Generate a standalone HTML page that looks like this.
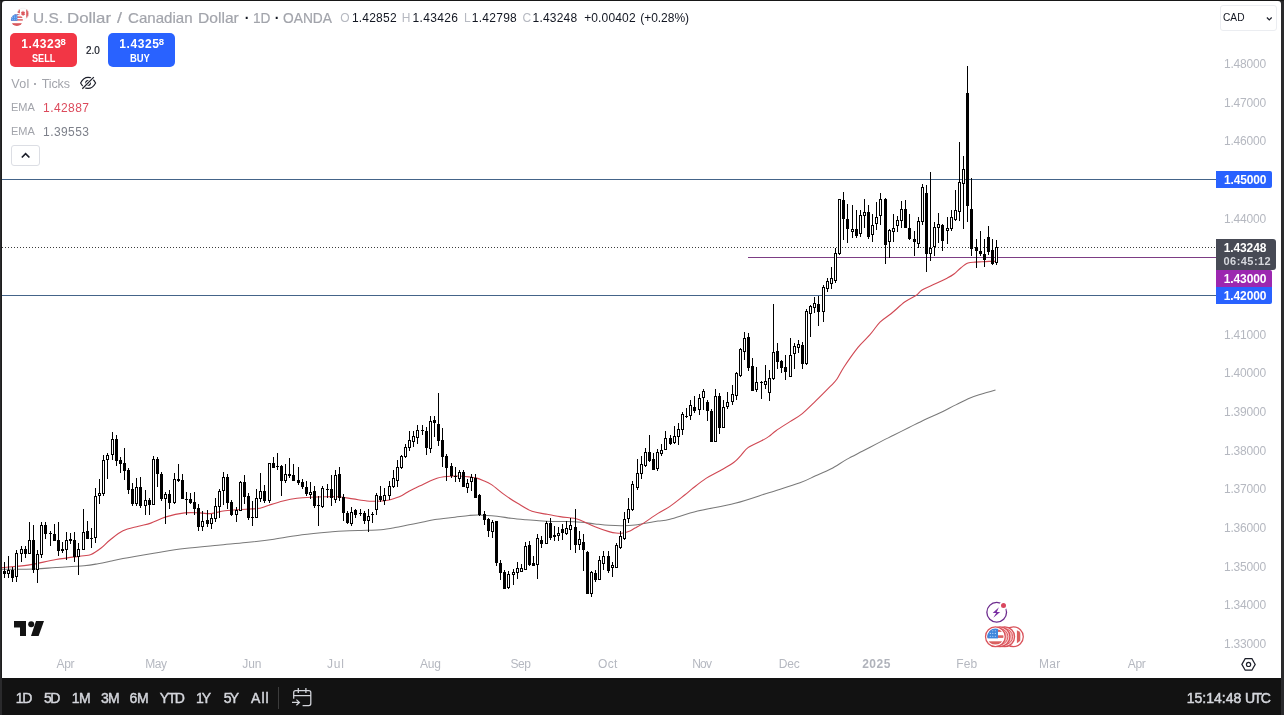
<!DOCTYPE html>
<html lang="en">
<head>
<meta charset="utf-8">
<title>USDCAD Chart</title>
<style>
*{box-sizing:border-box}
html,body{margin:0;padding:0}
body{width:1284px;height:715px;overflow:hidden;background:#2a2a2c;font-family:"Liberation Sans",sans-serif;position:relative;color:#131722}
.chart{position:absolute;left:2px;top:1px;width:1279px;height:677px;background:#fff;border-radius:3px 3px 0 0;overflow:hidden}
.bar{position:absolute;left:2px;top:678px;width:1279px;height:37px;background:#121212}
.abs{position:absolute;white-space:nowrap;line-height:1}
.ov{position:absolute;left:0;top:0;width:1284px;height:715px}
svg.plot{position:absolute;left:-2px;top:-1px}
</style>
</head>
<body>
<div class="abs" style="left:0;top:0;width:1284px;height:1px;background:#171717"></div>
<div class="abs" style="left:1px;top:1px;width:1px;height:677px;background:#1d1d1d"></div>
<div class="chart">
<svg class="plot" width="1284" height="715" viewBox="0 0 1284 715">
<line x1="2" y1="179.5" x2="1216" y2="179.5" stroke="#446489" stroke-width="1"/>
<line x1="2" y1="295.5" x2="1216" y2="295.5" stroke="#446489" stroke-width="1"/>
<line x1="748" y1="257.5" x2="1216" y2="257.5" stroke="#7c3d84" stroke-width="1"/>
<line x1="2" y1="247.5" x2="1216" y2="247.5" stroke="#3c3c3c" stroke-width="1" stroke-dasharray="1 2" shape-rendering="crispEdges"/>
<path d="M2.0,569.3 C7.5,569.2 26.0,569.2 35.0,568.9 C44.0,568.6 47.8,568.0 56.0,567.5 C64.2,567.0 77.0,566.4 84.0,565.8 C91.0,565.2 93.7,564.5 98.0,563.7 C102.3,563.0 105.8,562.2 110.0,561.3 C114.2,560.4 115.7,559.9 123.0,558.5 C130.3,557.1 143.5,554.9 153.8,553.2 C164.1,551.6 173.9,549.9 184.6,548.6 C195.3,547.3 207.8,546.2 218.0,545.2 C228.2,544.2 236.7,543.6 246.0,542.6 C255.3,541.6 264.7,540.5 274.0,539.2 C283.3,537.9 292.7,535.9 302.0,534.7 C311.3,533.5 323.0,532.5 330.0,531.9 C337.0,531.3 337.8,531.2 344.0,530.9 C350.2,530.6 360.8,530.5 367.0,530.3 C373.2,530.1 376.3,530.2 381.0,529.7 C385.7,529.2 390.3,528.4 395.0,527.6 C399.7,526.8 404.3,525.7 409.0,524.8 C413.7,523.9 418.7,522.9 423.0,522.0 C427.3,521.1 429.7,520.4 435.0,519.6 C440.3,518.8 449.3,517.9 455.0,517.2 C460.7,516.5 465.0,515.9 469.0,515.5 C473.0,515.1 474.3,514.9 479.0,515.0 C483.7,515.1 491.7,515.7 497.0,516.2 C502.3,516.8 506.3,517.7 511.0,518.3 C515.7,518.9 520.3,519.3 525.0,519.7 C529.7,520.1 534.3,520.5 539.0,520.8 C543.7,521.1 548.3,521.3 553.0,521.4 C557.7,521.5 562.3,521.4 567.0,521.5 C571.7,521.6 576.3,521.8 581.0,522.2 C585.7,522.6 590.3,523.4 595.0,523.9 C599.7,524.4 604.3,525.0 609.0,525.3 C613.7,525.6 618.7,525.8 623.0,525.7 C627.3,525.7 631.5,525.4 635.0,525.0 C638.5,524.6 640.2,524.1 644.0,523.5 C647.8,522.9 653.7,521.8 658.0,521.1 C662.3,520.4 663.4,520.9 670.0,519.2 C676.6,517.5 686.8,513.8 697.6,511.1 C708.4,508.5 723.0,506.4 735.0,503.3 C747.0,500.2 758.9,495.8 769.7,492.4 C780.5,489.0 792.4,485.6 800.0,482.8 C807.6,480.0 810.4,478.1 815.6,475.8 C820.8,473.5 826.0,471.5 831.2,468.8 C836.4,466.1 841.5,462.3 846.7,459.4 C851.9,456.5 857.1,454.0 862.3,451.3 C867.5,448.6 872.7,445.8 877.9,443.1 C883.1,440.4 888.3,437.9 893.5,435.3 C898.7,432.7 903.8,430.1 909.0,427.5 C914.2,424.9 919.4,422.2 924.6,419.7 C929.8,417.2 935.0,415.2 940.2,412.7 C945.4,410.2 951.1,407.2 955.8,404.9 C960.5,402.6 964.3,400.4 968.2,398.7 C972.1,397.0 974.6,396.2 979.1,394.8 C983.6,393.4 992.8,390.9 995.5,390.1" fill="none" stroke="#797979" stroke-width="1.05"/>
<path d="M2.0,567.6 C6.3,567.2 19.0,566.5 28.0,565.1 C37.0,563.8 46.7,561.1 56.0,559.5 C65.3,557.9 78.2,556.5 84.0,555.7 C89.8,554.9 88.2,555.8 91.0,554.6 C93.8,553.4 97.6,550.7 100.8,548.3 C104.0,545.9 106.3,542.9 110.0,540.0 C113.7,537.1 118.2,533.1 123.0,530.8 C127.8,528.5 133.9,527.5 138.5,526.2 C143.1,524.9 146.2,524.7 150.8,523.1 C155.4,521.5 160.4,518.6 166.0,516.9 C171.6,515.2 178.9,513.6 184.6,512.9 C190.3,512.2 195.6,512.8 200.0,512.9 C204.4,513.0 206.8,514.0 211.0,513.6 C215.2,513.2 219.2,511.5 225.0,510.8 C230.8,510.1 240.2,509.6 246.0,509.2 C251.8,508.8 256.2,508.9 260.0,508.2 C263.8,507.5 265.2,506.4 269.0,505.2 C272.8,504.0 278.3,502.2 283.0,501.0 C287.7,499.8 292.3,498.8 297.0,498.2 C301.7,497.6 306.3,497.4 311.0,497.2 C315.7,497.0 320.3,496.9 325.0,496.8 C329.7,496.7 334.3,496.5 339.0,496.8 C343.7,497.1 348.3,498.2 353.0,498.9 C357.7,499.6 363.5,500.6 367.0,501.0 C370.5,501.4 371.7,501.3 374.0,501.3 C376.3,501.3 378.7,501.2 381.0,501.0 C383.3,500.8 385.7,500.8 388.0,500.3 C390.3,499.8 392.7,499.0 395.0,498.2 C397.3,497.4 399.7,496.6 402.0,495.4 C404.3,494.2 406.7,492.5 409.0,491.2 C411.3,489.9 413.7,488.8 416.0,487.7 C418.3,486.6 420.7,485.6 423.0,484.5 C425.3,483.4 427.7,482.1 430.0,481.0 C432.3,479.9 434.7,478.9 437.0,478.2 C439.3,477.5 441.7,477.1 444.0,476.8 C446.3,476.5 448.7,476.4 451.0,476.3 C453.3,476.2 455.0,475.9 458.0,476.0 C461.0,476.1 466.0,476.6 469.0,476.9 C472.0,477.2 473.7,477.3 476.0,477.9 C478.3,478.5 480.4,479.3 483.0,480.4 C485.6,481.5 488.0,482.3 491.5,484.6 C495.0,486.9 499.6,491.2 504.0,494.4 C508.4,497.6 513.3,500.8 518.0,503.6 C522.7,506.4 527.3,509.6 532.0,511.3 C536.7,513.0 541.3,513.2 546.0,514.1 C550.7,515.0 555.3,515.9 560.0,516.6 C564.7,517.3 570.5,517.7 574.0,518.3 C577.5,518.9 577.5,519.0 581.0,520.4 C584.5,521.8 590.3,524.8 595.0,526.7 C599.7,528.6 605.5,530.6 609.0,531.6 C612.5,532.6 613.7,532.8 616.0,533.0 C618.3,533.2 620.7,533.4 623.0,533.0 C625.3,532.6 628.0,531.7 630.0,530.9 C632.0,530.1 632.7,529.4 635.0,528.1 C637.3,526.8 640.2,525.4 644.0,522.9 C647.8,520.4 653.7,516.1 658.0,513.4 C662.3,510.6 665.5,509.5 670.0,506.4 C674.5,503.3 681.3,497.7 685.0,494.8 C688.7,491.9 688.5,491.6 692.0,488.9 C695.5,486.2 701.3,481.4 706.0,478.4 C710.7,475.4 715.3,473.4 720.0,470.7 C724.7,468.0 730.5,464.9 734.0,462.3 C737.5,459.7 738.7,457.8 741.0,455.3 C743.3,452.9 744.5,450.1 748.0,447.6 C751.5,445.2 758.5,442.5 762.0,440.6 C765.5,438.7 766.7,438.0 769.0,436.4 C771.3,434.8 772.5,433.2 776.0,430.7 C779.5,428.2 785.7,424.4 790.0,421.6 C794.3,418.8 797.7,417.4 802.0,413.9 C806.3,410.4 811.3,405.2 816.0,400.7 C820.7,396.2 826.5,390.3 830.0,386.7 C833.5,383.1 834.7,382.3 837.0,379.0 C839.3,375.7 840.5,372.3 844.0,367.0 C847.5,361.7 853.7,352.8 858.0,347.4 C862.3,342.0 866.3,338.9 870.0,334.7 C873.7,330.5 876.5,325.6 880.0,322.1 C883.5,318.6 886.8,317.1 891.0,313.7 C895.2,310.3 900.8,304.9 905.0,301.8 C909.2,298.7 913.6,297.2 916.4,295.2 C919.2,293.2 919.2,291.6 922.0,289.9 C924.8,288.2 928.8,286.8 933.0,284.8 C937.2,282.9 943.5,280.0 947.0,278.2 C950.5,276.4 951.7,275.8 954.0,274.0 C956.3,272.2 958.7,269.5 961.0,267.7 C963.3,265.9 965.7,264.0 968.0,263.1 C970.3,262.2 972.7,262.3 975.0,262.1 C977.3,261.9 979.7,261.9 982.0,261.8 C984.3,261.7 986.7,261.5 989.0,261.4 C991.3,261.3 994.8,261.4 996.0,261.4" fill="none" stroke="#d04853" stroke-width="1.12"/>
<g fill="#000" shape-rendering="crispEdges">
<rect x="4" y="562" width="1" height="16"/>
<rect x="3" y="571" width="3" height="3"/>
<rect x="8" y="556" width="1" height="22"/>
<rect x="7" y="570" width="3" height="4"/>
<rect x="8" y="571" width="1" height="2" fill="#fff"/>
<rect x="12" y="567" width="1" height="15"/>
<rect x="11" y="570" width="3" height="8"/>
<rect x="16" y="550" width="1" height="32"/>
<rect x="15" y="553" width="3" height="24"/>
<rect x="16" y="554" width="1" height="22" fill="#fff"/>
<rect x="21" y="546" width="1" height="16"/>
<rect x="20" y="549" width="3" height="5"/>
<rect x="21" y="550" width="1" height="3" fill="#fff"/>
<rect x="25" y="546" width="1" height="12"/>
<rect x="24" y="549" width="3" height="5"/>
<rect x="29" y="522" width="1" height="32"/>
<rect x="28" y="540" width="3" height="14"/>
<rect x="29" y="541" width="1" height="12" fill="#fff"/>
<rect x="33" y="525" width="1" height="48"/>
<rect x="32" y="540" width="3" height="30"/>
<rect x="37" y="550" width="1" height="33"/>
<rect x="36" y="554" width="3" height="16"/>
<rect x="37" y="555" width="1" height="14" fill="#fff"/>
<rect x="41" y="522" width="1" height="36"/>
<rect x="40" y="525" width="3" height="30"/>
<rect x="41" y="526" width="1" height="28" fill="#fff"/>
<rect x="45" y="522" width="1" height="17"/>
<rect x="44" y="525" width="3" height="9"/>
<rect x="50" y="531" width="1" height="15"/>
<rect x="49" y="533" width="3" height="1"/>
<rect x="54" y="524" width="1" height="17"/>
<rect x="53" y="534" width="3" height="7"/>
<rect x="58" y="522" width="1" height="34"/>
<rect x="57" y="540" width="3" height="11"/>
<rect x="62" y="542" width="1" height="11"/>
<rect x="61" y="549" width="3" height="2"/>
<rect x="66" y="532" width="1" height="28"/>
<rect x="65" y="540" width="3" height="10"/>
<rect x="66" y="541" width="1" height="8" fill="#fff"/>
<rect x="70" y="533" width="1" height="11"/>
<rect x="69" y="539" width="3" height="2"/>
<rect x="74" y="532" width="1" height="30"/>
<rect x="73" y="540" width="3" height="17"/>
<rect x="78" y="543" width="1" height="32"/>
<rect x="77" y="549" width="3" height="8"/>
<rect x="78" y="550" width="1" height="6" fill="#fff"/>
<rect x="83" y="509" width="1" height="41"/>
<rect x="82" y="532" width="3" height="18"/>
<rect x="83" y="533" width="1" height="16" fill="#fff"/>
<rect x="87" y="521" width="1" height="18"/>
<rect x="86" y="531" width="3" height="8"/>
<rect x="91" y="528" width="1" height="20"/>
<rect x="90" y="538" width="3" height="1"/>
<rect x="95" y="488" width="1" height="55"/>
<rect x="94" y="496" width="3" height="42"/>
<rect x="95" y="497" width="1" height="40" fill="#fff"/>
<rect x="99" y="479" width="1" height="25"/>
<rect x="98" y="493" width="3" height="3"/>
<rect x="99" y="494" width="1" height="1" fill="#fff"/>
<rect x="103" y="455" width="1" height="41"/>
<rect x="102" y="460" width="3" height="34"/>
<rect x="103" y="461" width="1" height="32" fill="#fff"/>
<rect x="107" y="453" width="1" height="26"/>
<rect x="106" y="455" width="3" height="5"/>
<rect x="107" y="456" width="1" height="3" fill="#fff"/>
<rect x="112" y="432" width="1" height="28"/>
<rect x="111" y="439" width="3" height="16"/>
<rect x="112" y="440" width="1" height="14" fill="#fff"/>
<rect x="116" y="435" width="1" height="31"/>
<rect x="115" y="439" width="3" height="22"/>
<rect x="120" y="457" width="1" height="16"/>
<rect x="119" y="460" width="3" height="4"/>
<rect x="124" y="448" width="1" height="32"/>
<rect x="123" y="463" width="3" height="8"/>
<rect x="128" y="468" width="1" height="26"/>
<rect x="127" y="470" width="3" height="20"/>
<rect x="132" y="483" width="1" height="23"/>
<rect x="131" y="489" width="3" height="15"/>
<rect x="136" y="478" width="1" height="28"/>
<rect x="135" y="487" width="3" height="17"/>
<rect x="136" y="488" width="1" height="15" fill="#fff"/>
<rect x="140" y="477" width="1" height="31"/>
<rect x="139" y="487" width="3" height="19"/>
<rect x="145" y="490" width="1" height="25"/>
<rect x="144" y="500" width="3" height="6"/>
<rect x="145" y="501" width="1" height="4" fill="#fff"/>
<rect x="149" y="498" width="1" height="17"/>
<rect x="148" y="500" width="3" height="5"/>
<rect x="153" y="456" width="1" height="49"/>
<rect x="152" y="459" width="3" height="46"/>
<rect x="153" y="460" width="1" height="44" fill="#fff"/>
<rect x="157" y="457" width="1" height="30"/>
<rect x="156" y="459" width="3" height="15"/>
<rect x="161" y="472" width="1" height="29"/>
<rect x="160" y="474" width="3" height="25"/>
<rect x="165" y="492" width="1" height="32"/>
<rect x="164" y="494" width="3" height="5"/>
<rect x="165" y="495" width="1" height="3" fill="#fff"/>
<rect x="169" y="490" width="1" height="19"/>
<rect x="168" y="494" width="3" height="9"/>
<rect x="174" y="473" width="1" height="31"/>
<rect x="173" y="479" width="3" height="24"/>
<rect x="174" y="480" width="1" height="22" fill="#fff"/>
<rect x="178" y="464" width="1" height="18"/>
<rect x="177" y="479" width="3" height="2"/>
<rect x="182" y="474" width="1" height="25"/>
<rect x="181" y="480" width="3" height="19"/>
<rect x="186" y="492" width="1" height="23"/>
<rect x="185" y="499" width="3" height="1"/>
<rect x="190" y="493" width="1" height="11"/>
<rect x="189" y="499" width="3" height="4"/>
<rect x="194" y="492" width="1" height="23"/>
<rect x="193" y="502" width="3" height="7"/>
<rect x="198" y="504" width="1" height="27"/>
<rect x="197" y="508" width="3" height="19"/>
<rect x="202" y="511" width="1" height="20"/>
<rect x="201" y="521" width="3" height="6"/>
<rect x="202" y="522" width="1" height="4" fill="#fff"/>
<rect x="207" y="510" width="1" height="17"/>
<rect x="206" y="520" width="3" height="4"/>
<rect x="211" y="514" width="1" height="15"/>
<rect x="210" y="518" width="3" height="6"/>
<rect x="211" y="519" width="1" height="4" fill="#fff"/>
<rect x="215" y="498" width="1" height="24"/>
<rect x="214" y="506" width="3" height="13"/>
<rect x="215" y="507" width="1" height="11" fill="#fff"/>
<rect x="219" y="489" width="1" height="29"/>
<rect x="218" y="491" width="3" height="16"/>
<rect x="219" y="492" width="1" height="14" fill="#fff"/>
<rect x="223" y="472" width="1" height="33"/>
<rect x="222" y="477" width="3" height="14"/>
<rect x="223" y="478" width="1" height="12" fill="#fff"/>
<rect x="227" y="474" width="1" height="35"/>
<rect x="226" y="477" width="3" height="26"/>
<rect x="231" y="500" width="1" height="16"/>
<rect x="230" y="502" width="3" height="13"/>
<rect x="236" y="507" width="1" height="15"/>
<rect x="235" y="510" width="3" height="5"/>
<rect x="236" y="511" width="1" height="3" fill="#fff"/>
<rect x="240" y="481" width="1" height="30"/>
<rect x="239" y="482" width="3" height="29"/>
<rect x="240" y="483" width="1" height="27" fill="#fff"/>
<rect x="244" y="475" width="1" height="29"/>
<rect x="243" y="482" width="3" height="15"/>
<rect x="248" y="493" width="1" height="27"/>
<rect x="247" y="496" width="3" height="22"/>
<rect x="252" y="501" width="1" height="25"/>
<rect x="251" y="517" width="3" height="1"/>
<rect x="256" y="489" width="1" height="29"/>
<rect x="255" y="498" width="3" height="20"/>
<rect x="256" y="499" width="1" height="18" fill="#fff"/>
<rect x="260" y="473" width="1" height="29"/>
<rect x="259" y="491" width="3" height="8"/>
<rect x="260" y="492" width="1" height="6" fill="#fff"/>
<rect x="264" y="485" width="1" height="18"/>
<rect x="263" y="491" width="3" height="10"/>
<rect x="269" y="463" width="1" height="40"/>
<rect x="268" y="463" width="3" height="38"/>
<rect x="269" y="464" width="1" height="36" fill="#fff"/>
<rect x="273" y="457" width="1" height="11"/>
<rect x="272" y="463" width="3" height="5"/>
<rect x="277" y="453" width="1" height="17"/>
<rect x="276" y="466" width="3" height="1"/>
<rect x="281" y="465" width="1" height="31"/>
<rect x="280" y="466" width="3" height="15"/>
<rect x="285" y="464" width="1" height="19"/>
<rect x="284" y="474" width="3" height="7"/>
<rect x="285" y="475" width="1" height="5" fill="#fff"/>
<rect x="289" y="458" width="1" height="20"/>
<rect x="288" y="474" width="3" height="2"/>
<rect x="293" y="464" width="1" height="17"/>
<rect x="292" y="475" width="3" height="6"/>
<rect x="298" y="467" width="1" height="18"/>
<rect x="297" y="480" width="3" height="3"/>
<rect x="302" y="479" width="1" height="10"/>
<rect x="301" y="482" width="3" height="5"/>
<rect x="306" y="481" width="1" height="15"/>
<rect x="305" y="487" width="3" height="7"/>
<rect x="310" y="482" width="1" height="17"/>
<rect x="309" y="492" width="3" height="3"/>
<rect x="310" y="493" width="1" height="1" fill="#fff"/>
<rect x="314" y="486" width="1" height="22"/>
<rect x="313" y="491" width="3" height="15"/>
<rect x="318" y="496" width="1" height="30"/>
<rect x="317" y="505" width="3" height="1"/>
<rect x="322" y="486" width="1" height="22"/>
<rect x="321" y="488" width="3" height="19"/>
<rect x="322" y="489" width="1" height="17" fill="#fff"/>
<rect x="327" y="484" width="1" height="14"/>
<rect x="326" y="489" width="3" height="1"/>
<rect x="331" y="475" width="1" height="31"/>
<rect x="330" y="489" width="3" height="9"/>
<rect x="335" y="470" width="1" height="33"/>
<rect x="334" y="475" width="3" height="25"/>
<rect x="335" y="476" width="1" height="23" fill="#fff"/>
<rect x="339" y="467" width="1" height="34"/>
<rect x="338" y="474" width="3" height="24"/>
<rect x="343" y="494" width="1" height="27"/>
<rect x="342" y="497" width="3" height="16"/>
<rect x="347" y="511" width="1" height="13"/>
<rect x="346" y="513" width="3" height="10"/>
<rect x="351" y="507" width="1" height="19"/>
<rect x="350" y="512" width="3" height="12"/>
<rect x="351" y="513" width="1" height="10" fill="#fff"/>
<rect x="355" y="509" width="1" height="9"/>
<rect x="354" y="510" width="3" height="5"/>
<rect x="360" y="509" width="1" height="7"/>
<rect x="359" y="513" width="3" height="1"/>
<rect x="364" y="511" width="1" height="13"/>
<rect x="363" y="513" width="3" height="8"/>
<rect x="368" y="509" width="1" height="23"/>
<rect x="367" y="516" width="3" height="5"/>
<rect x="368" y="517" width="1" height="3" fill="#fff"/>
<rect x="372" y="512" width="1" height="11"/>
<rect x="371" y="514" width="3" height="1"/>
<rect x="376" y="493" width="1" height="22"/>
<rect x="375" y="495" width="3" height="15"/>
<rect x="376" y="496" width="1" height="13" fill="#fff"/>
<rect x="380" y="486" width="1" height="16"/>
<rect x="379" y="496" width="3" height="4"/>
<rect x="384" y="488" width="1" height="17"/>
<rect x="383" y="495" width="3" height="6"/>
<rect x="384" y="496" width="1" height="4" fill="#fff"/>
<rect x="389" y="481" width="1" height="19"/>
<rect x="388" y="486" width="3" height="10"/>
<rect x="389" y="487" width="1" height="8" fill="#fff"/>
<rect x="393" y="470" width="1" height="18"/>
<rect x="392" y="478" width="3" height="9"/>
<rect x="393" y="479" width="1" height="7" fill="#fff"/>
<rect x="397" y="460" width="1" height="27"/>
<rect x="396" y="467" width="3" height="14"/>
<rect x="397" y="468" width="1" height="12" fill="#fff"/>
<rect x="401" y="455" width="1" height="14"/>
<rect x="400" y="456" width="3" height="12"/>
<rect x="401" y="457" width="1" height="10" fill="#fff"/>
<rect x="405" y="444" width="1" height="14"/>
<rect x="404" y="447" width="3" height="10"/>
<rect x="405" y="448" width="1" height="8" fill="#fff"/>
<rect x="409" y="431" width="1" height="20"/>
<rect x="408" y="440" width="3" height="8"/>
<rect x="409" y="441" width="1" height="6" fill="#fff"/>
<rect x="413" y="431" width="1" height="16"/>
<rect x="412" y="436" width="3" height="6"/>
<rect x="413" y="437" width="1" height="4" fill="#fff"/>
<rect x="417" y="425" width="1" height="19"/>
<rect x="416" y="430" width="3" height="8"/>
<rect x="417" y="431" width="1" height="6" fill="#fff"/>
<rect x="422" y="425" width="1" height="10"/>
<rect x="421" y="430" width="3" height="1"/>
<rect x="426" y="427" width="1" height="28"/>
<rect x="425" y="431" width="3" height="17"/>
<rect x="430" y="416" width="1" height="37"/>
<rect x="429" y="421" width="3" height="28"/>
<rect x="430" y="422" width="1" height="26" fill="#fff"/>
<rect x="434" y="416" width="1" height="21"/>
<rect x="433" y="420" width="3" height="3"/>
<rect x="438" y="393" width="1" height="53"/>
<rect x="437" y="424" width="3" height="17"/>
<rect x="442" y="428" width="1" height="39"/>
<rect x="441" y="440" width="3" height="17"/>
<rect x="446" y="454" width="1" height="27"/>
<rect x="445" y="456" width="3" height="12"/>
<rect x="451" y="463" width="1" height="15"/>
<rect x="450" y="466" width="3" height="10"/>
<rect x="455" y="467" width="1" height="15"/>
<rect x="454" y="476" width="3" height="1"/>
<rect x="459" y="470" width="1" height="12"/>
<rect x="458" y="472" width="3" height="7"/>
<rect x="459" y="473" width="1" height="5" fill="#fff"/>
<rect x="463" y="470" width="1" height="17"/>
<rect x="462" y="472" width="3" height="15"/>
<rect x="467" y="479" width="1" height="14"/>
<rect x="466" y="483" width="3" height="5"/>
<rect x="467" y="484" width="1" height="3" fill="#fff"/>
<rect x="471" y="474" width="1" height="17"/>
<rect x="470" y="477" width="3" height="5"/>
<rect x="471" y="478" width="1" height="3" fill="#fff"/>
<rect x="475" y="474" width="1" height="24"/>
<rect x="474" y="478" width="3" height="20"/>
<rect x="479" y="494" width="1" height="22"/>
<rect x="478" y="495" width="3" height="20"/>
<rect x="484" y="511" width="1" height="14"/>
<rect x="483" y="514" width="3" height="6"/>
<rect x="488" y="518" width="1" height="19"/>
<rect x="487" y="519" width="3" height="12"/>
<rect x="492" y="520" width="1" height="18"/>
<rect x="491" y="522" width="3" height="10"/>
<rect x="492" y="523" width="1" height="8" fill="#fff"/>
<rect x="496" y="521" width="1" height="45"/>
<rect x="495" y="521" width="3" height="42"/>
<rect x="500" y="560" width="1" height="20"/>
<rect x="499" y="563" width="3" height="10"/>
<rect x="504" y="570" width="1" height="19"/>
<rect x="503" y="572" width="3" height="17"/>
<rect x="508" y="571" width="1" height="18"/>
<rect x="507" y="574" width="3" height="14"/>
<rect x="508" y="575" width="1" height="12" fill="#fff"/>
<rect x="513" y="569" width="1" height="16"/>
<rect x="512" y="572" width="3" height="3"/>
<rect x="513" y="573" width="1" height="1" fill="#fff"/>
<rect x="517" y="562" width="1" height="17"/>
<rect x="516" y="568" width="3" height="5"/>
<rect x="517" y="569" width="1" height="3" fill="#fff"/>
<rect x="521" y="564" width="1" height="8"/>
<rect x="520" y="568" width="3" height="4"/>
<rect x="521" y="569" width="1" height="2" fill="#fff"/>
<rect x="525" y="542" width="1" height="28"/>
<rect x="524" y="546" width="3" height="24"/>
<rect x="525" y="547" width="1" height="22" fill="#fff"/>
<rect x="529" y="541" width="1" height="25"/>
<rect x="528" y="545" width="3" height="20"/>
<rect x="533" y="556" width="1" height="10"/>
<rect x="532" y="563" width="3" height="3"/>
<rect x="537" y="534" width="1" height="45"/>
<rect x="536" y="538" width="3" height="27"/>
<rect x="537" y="539" width="1" height="25" fill="#fff"/>
<rect x="541" y="536" width="1" height="12"/>
<rect x="540" y="540" width="3" height="4"/>
<rect x="546" y="521" width="1" height="23"/>
<rect x="545" y="523" width="3" height="21"/>
<rect x="546" y="524" width="1" height="19" fill="#fff"/>
<rect x="550" y="518" width="1" height="22"/>
<rect x="549" y="523" width="3" height="15"/>
<rect x="554" y="526" width="1" height="15"/>
<rect x="553" y="535" width="3" height="2"/>
<rect x="558" y="527" width="1" height="14"/>
<rect x="557" y="533" width="3" height="3"/>
<rect x="558" y="534" width="1" height="1" fill="#fff"/>
<rect x="562" y="524" width="1" height="16"/>
<rect x="561" y="529" width="3" height="4"/>
<rect x="566" y="521" width="1" height="14"/>
<rect x="565" y="528" width="3" height="6"/>
<rect x="566" y="529" width="1" height="4" fill="#fff"/>
<rect x="570" y="518" width="1" height="32"/>
<rect x="569" y="525" width="3" height="5"/>
<rect x="570" y="526" width="1" height="3" fill="#fff"/>
<rect x="575" y="509" width="1" height="44"/>
<rect x="574" y="527" width="3" height="18"/>
<rect x="579" y="531" width="1" height="19"/>
<rect x="578" y="539" width="3" height="6"/>
<rect x="579" y="540" width="1" height="4" fill="#fff"/>
<rect x="583" y="534" width="1" height="37"/>
<rect x="582" y="542" width="3" height="8"/>
<rect x="587" y="551" width="1" height="43"/>
<rect x="586" y="552" width="3" height="42"/>
<rect x="591" y="571" width="1" height="26"/>
<rect x="590" y="572" width="3" height="22"/>
<rect x="591" y="573" width="1" height="20" fill="#fff"/>
<rect x="595" y="570" width="1" height="12"/>
<rect x="594" y="573" width="3" height="7"/>
<rect x="599" y="556" width="1" height="24"/>
<rect x="598" y="560" width="3" height="20"/>
<rect x="599" y="561" width="1" height="18" fill="#fff"/>
<rect x="603" y="551" width="1" height="19"/>
<rect x="602" y="556" width="3" height="8"/>
<rect x="603" y="557" width="1" height="6" fill="#fff"/>
<rect x="608" y="551" width="1" height="22"/>
<rect x="607" y="556" width="3" height="15"/>
<rect x="612" y="562" width="1" height="15"/>
<rect x="611" y="565" width="3" height="3"/>
<rect x="612" y="566" width="1" height="1" fill="#fff"/>
<rect x="616" y="543" width="1" height="25"/>
<rect x="615" y="545" width="3" height="23"/>
<rect x="616" y="546" width="1" height="21" fill="#fff"/>
<rect x="620" y="531" width="1" height="18"/>
<rect x="619" y="536" width="3" height="12"/>
<rect x="620" y="537" width="1" height="10" fill="#fff"/>
<rect x="624" y="512" width="1" height="28"/>
<rect x="623" y="519" width="3" height="20"/>
<rect x="624" y="520" width="1" height="18" fill="#fff"/>
<rect x="628" y="498" width="1" height="25"/>
<rect x="627" y="509" width="3" height="10"/>
<rect x="628" y="510" width="1" height="8" fill="#fff"/>
<rect x="632" y="481" width="1" height="30"/>
<rect x="631" y="484" width="3" height="26"/>
<rect x="632" y="485" width="1" height="24" fill="#fff"/>
<rect x="637" y="459" width="1" height="31"/>
<rect x="636" y="473" width="3" height="15"/>
<rect x="637" y="474" width="1" height="13" fill="#fff"/>
<rect x="641" y="456" width="1" height="23"/>
<rect x="640" y="464" width="3" height="10"/>
<rect x="641" y="465" width="1" height="8" fill="#fff"/>
<rect x="645" y="448" width="1" height="19"/>
<rect x="644" y="452" width="3" height="14"/>
<rect x="645" y="453" width="1" height="12" fill="#fff"/>
<rect x="649" y="435" width="1" height="27"/>
<rect x="648" y="452" width="3" height="9"/>
<rect x="653" y="453" width="1" height="17"/>
<rect x="652" y="459" width="3" height="11"/>
<rect x="657" y="449" width="1" height="22"/>
<rect x="656" y="452" width="3" height="17"/>
<rect x="657" y="453" width="1" height="15" fill="#fff"/>
<rect x="661" y="444" width="1" height="12"/>
<rect x="660" y="450" width="3" height="4"/>
<rect x="661" y="451" width="1" height="2" fill="#fff"/>
<rect x="665" y="431" width="1" height="19"/>
<rect x="664" y="438" width="3" height="12"/>
<rect x="665" y="439" width="1" height="10" fill="#fff"/>
<rect x="670" y="435" width="1" height="10"/>
<rect x="669" y="438" width="3" height="6"/>
<rect x="674" y="426" width="1" height="18"/>
<rect x="673" y="436" width="3" height="7"/>
<rect x="674" y="437" width="1" height="5" fill="#fff"/>
<rect x="678" y="423" width="1" height="22"/>
<rect x="677" y="429" width="3" height="8"/>
<rect x="678" y="430" width="1" height="6" fill="#fff"/>
<rect x="682" y="412" width="1" height="23"/>
<rect x="681" y="414" width="3" height="16"/>
<rect x="682" y="415" width="1" height="14" fill="#fff"/>
<rect x="686" y="408" width="1" height="10"/>
<rect x="685" y="416" width="3" height="1"/>
<rect x="690" y="400" width="1" height="20"/>
<rect x="689" y="405" width="3" height="11"/>
<rect x="690" y="406" width="1" height="9" fill="#fff"/>
<rect x="694" y="396" width="1" height="17"/>
<rect x="693" y="407" width="3" height="4"/>
<rect x="699" y="394" width="1" height="21"/>
<rect x="698" y="398" width="3" height="12"/>
<rect x="699" y="399" width="1" height="10" fill="#fff"/>
<rect x="703" y="389" width="1" height="21"/>
<rect x="702" y="391" width="3" height="7"/>
<rect x="703" y="392" width="1" height="5" fill="#fff"/>
<rect x="707" y="400" width="1" height="21"/>
<rect x="706" y="402" width="3" height="9"/>
<rect x="711" y="409" width="1" height="33"/>
<rect x="710" y="411" width="3" height="31"/>
<rect x="715" y="389" width="1" height="53"/>
<rect x="714" y="396" width="3" height="46"/>
<rect x="715" y="397" width="1" height="44" fill="#fff"/>
<rect x="719" y="393" width="1" height="41"/>
<rect x="718" y="396" width="3" height="32"/>
<rect x="723" y="400" width="1" height="28"/>
<rect x="722" y="407" width="3" height="21"/>
<rect x="723" y="408" width="1" height="19" fill="#fff"/>
<rect x="727" y="392" width="1" height="17"/>
<rect x="726" y="402" width="3" height="5"/>
<rect x="727" y="403" width="1" height="3" fill="#fff"/>
<rect x="732" y="385" width="1" height="20"/>
<rect x="731" y="394" width="3" height="8"/>
<rect x="732" y="395" width="1" height="6" fill="#fff"/>
<rect x="736" y="372" width="1" height="28"/>
<rect x="735" y="373" width="3" height="23"/>
<rect x="736" y="374" width="1" height="21" fill="#fff"/>
<rect x="740" y="348" width="1" height="29"/>
<rect x="739" y="349" width="3" height="27"/>
<rect x="740" y="350" width="1" height="25" fill="#fff"/>
<rect x="744" y="332" width="1" height="28"/>
<rect x="743" y="338" width="3" height="14"/>
<rect x="744" y="339" width="1" height="12" fill="#fff"/>
<rect x="748" y="333" width="1" height="38"/>
<rect x="747" y="337" width="3" height="31"/>
<rect x="752" y="358" width="1" height="33"/>
<rect x="751" y="366" width="3" height="25"/>
<rect x="756" y="367" width="1" height="25"/>
<rect x="755" y="382" width="3" height="8"/>
<rect x="756" y="383" width="1" height="6" fill="#fff"/>
<rect x="761" y="381" width="1" height="18"/>
<rect x="760" y="382" width="3" height="1"/>
<rect x="765" y="365" width="1" height="24"/>
<rect x="764" y="381" width="3" height="4"/>
<rect x="765" y="382" width="1" height="2" fill="#fff"/>
<rect x="769" y="370" width="1" height="31"/>
<rect x="768" y="378" width="3" height="15"/>
<rect x="769" y="379" width="1" height="13" fill="#fff"/>
<rect x="773" y="304" width="1" height="76"/>
<rect x="772" y="352" width="3" height="27"/>
<rect x="773" y="353" width="1" height="25" fill="#fff"/>
<rect x="777" y="343" width="1" height="26"/>
<rect x="776" y="351" width="3" height="11"/>
<rect x="781" y="360" width="1" height="13"/>
<rect x="780" y="361" width="3" height="7"/>
<rect x="785" y="355" width="1" height="25"/>
<rect x="784" y="367" width="3" height="5"/>
<rect x="790" y="338" width="1" height="39"/>
<rect x="789" y="355" width="3" height="22"/>
<rect x="790" y="356" width="1" height="20" fill="#fff"/>
<rect x="794" y="343" width="1" height="26"/>
<rect x="793" y="346" width="3" height="8"/>
<rect x="794" y="347" width="1" height="6" fill="#fff"/>
<rect x="798" y="340" width="1" height="13"/>
<rect x="797" y="344" width="3" height="4"/>
<rect x="798" y="345" width="1" height="2" fill="#fff"/>
<rect x="802" y="342" width="1" height="27"/>
<rect x="801" y="345" width="3" height="19"/>
<rect x="806" y="309" width="1" height="56"/>
<rect x="805" y="311" width="3" height="53"/>
<rect x="806" y="312" width="1" height="51" fill="#fff"/>
<rect x="810" y="305" width="1" height="32"/>
<rect x="809" y="306" width="3" height="8"/>
<rect x="810" y="307" width="1" height="6" fill="#fff"/>
<rect x="814" y="297" width="1" height="16"/>
<rect x="813" y="303" width="3" height="5"/>
<rect x="814" y="304" width="1" height="3" fill="#fff"/>
<rect x="818" y="296" width="1" height="30"/>
<rect x="817" y="304" width="3" height="8"/>
<rect x="823" y="285" width="1" height="37"/>
<rect x="822" y="287" width="3" height="25"/>
<rect x="823" y="288" width="1" height="23" fill="#fff"/>
<rect x="827" y="278" width="1" height="14"/>
<rect x="826" y="281" width="3" height="8"/>
<rect x="827" y="282" width="1" height="6" fill="#fff"/>
<rect x="831" y="267" width="1" height="22"/>
<rect x="830" y="278" width="3" height="6"/>
<rect x="831" y="279" width="1" height="4" fill="#fff"/>
<rect x="835" y="248" width="1" height="35"/>
<rect x="834" y="253" width="3" height="28"/>
<rect x="835" y="254" width="1" height="26" fill="#fff"/>
<rect x="839" y="199" width="1" height="56"/>
<rect x="838" y="199" width="3" height="55"/>
<rect x="839" y="200" width="1" height="53" fill="#fff"/>
<rect x="843" y="192" width="1" height="48"/>
<rect x="842" y="200" width="3" height="19"/>
<rect x="847" y="204" width="1" height="39"/>
<rect x="846" y="219" width="3" height="10"/>
<rect x="852" y="205" width="1" height="33"/>
<rect x="851" y="229" width="3" height="3"/>
<rect x="852" y="230" width="1" height="1" fill="#fff"/>
<rect x="856" y="210" width="1" height="28"/>
<rect x="855" y="229" width="3" height="7"/>
<rect x="860" y="210" width="1" height="27"/>
<rect x="859" y="215" width="3" height="19"/>
<rect x="860" y="216" width="1" height="17" fill="#fff"/>
<rect x="864" y="199" width="1" height="29"/>
<rect x="863" y="212" width="3" height="4"/>
<rect x="864" y="213" width="1" height="2" fill="#fff"/>
<rect x="868" y="205" width="1" height="34"/>
<rect x="867" y="212" width="3" height="25"/>
<rect x="872" y="214" width="1" height="28"/>
<rect x="871" y="225" width="3" height="10"/>
<rect x="872" y="226" width="1" height="8" fill="#fff"/>
<rect x="876" y="202" width="1" height="28"/>
<rect x="875" y="217" width="3" height="7"/>
<rect x="876" y="218" width="1" height="5" fill="#fff"/>
<rect x="880" y="193" width="1" height="32"/>
<rect x="879" y="199" width="3" height="17"/>
<rect x="880" y="200" width="1" height="15" fill="#fff"/>
<rect x="885" y="198" width="1" height="66"/>
<rect x="884" y="199" width="3" height="46"/>
<rect x="889" y="229" width="1" height="29"/>
<rect x="888" y="230" width="3" height="12"/>
<rect x="889" y="231" width="1" height="10" fill="#fff"/>
<rect x="893" y="214" width="1" height="28"/>
<rect x="892" y="228" width="3" height="4"/>
<rect x="893" y="229" width="1" height="2" fill="#fff"/>
<rect x="897" y="216" width="1" height="16"/>
<rect x="896" y="220" width="3" height="6"/>
<rect x="897" y="221" width="1" height="4" fill="#fff"/>
<rect x="901" y="201" width="1" height="27"/>
<rect x="900" y="209" width="3" height="12"/>
<rect x="901" y="210" width="1" height="10" fill="#fff"/>
<rect x="905" y="200" width="1" height="28"/>
<rect x="904" y="209" width="3" height="19"/>
<rect x="909" y="214" width="1" height="26"/>
<rect x="908" y="228" width="3" height="11"/>
<rect x="914" y="231" width="1" height="25"/>
<rect x="913" y="239" width="3" height="3"/>
<rect x="918" y="217" width="1" height="31"/>
<rect x="917" y="221" width="3" height="23"/>
<rect x="918" y="222" width="1" height="21" fill="#fff"/>
<rect x="922" y="184" width="1" height="41"/>
<rect x="921" y="187" width="3" height="35"/>
<rect x="922" y="188" width="1" height="33" fill="#fff"/>
<rect x="926" y="185" width="1" height="87"/>
<rect x="925" y="193" width="3" height="61"/>
<rect x="930" y="172" width="1" height="89"/>
<rect x="929" y="248" width="3" height="6"/>
<rect x="930" y="249" width="1" height="4" fill="#fff"/>
<rect x="934" y="222" width="1" height="34"/>
<rect x="933" y="227" width="3" height="20"/>
<rect x="934" y="228" width="1" height="18" fill="#fff"/>
<rect x="938" y="213" width="1" height="30"/>
<rect x="937" y="224" width="3" height="4"/>
<rect x="938" y="225" width="1" height="2" fill="#fff"/>
<rect x="942" y="224" width="1" height="27"/>
<rect x="941" y="225" width="3" height="16"/>
<rect x="947" y="217" width="1" height="27"/>
<rect x="946" y="228" width="3" height="3"/>
<rect x="947" y="229" width="1" height="1" fill="#fff"/>
<rect x="951" y="210" width="1" height="21"/>
<rect x="950" y="217" width="3" height="12"/>
<rect x="951" y="218" width="1" height="10" fill="#fff"/>
<rect x="955" y="190" width="1" height="31"/>
<rect x="954" y="210" width="3" height="10"/>
<rect x="955" y="211" width="1" height="8" fill="#fff"/>
<rect x="959" y="142" width="1" height="79"/>
<rect x="958" y="182" width="3" height="30"/>
<rect x="959" y="183" width="1" height="28" fill="#fff"/>
<rect x="963" y="156" width="1" height="73"/>
<rect x="962" y="169" width="3" height="15"/>
<rect x="963" y="170" width="1" height="13" fill="#fff"/>
<rect x="967" y="66" width="1" height="156"/>
<rect x="966" y="93" width="3" height="113"/>
<rect x="971" y="178" width="1" height="78"/>
<rect x="970" y="209" width="3" height="40"/>
<rect x="976" y="239" width="1" height="29"/>
<rect x="975" y="247" width="3" height="4"/>
<rect x="980" y="231" width="1" height="25"/>
<rect x="979" y="251" width="3" height="3"/>
<rect x="984" y="239" width="1" height="28"/>
<rect x="983" y="254" width="3" height="6"/>
<rect x="988" y="226" width="1" height="29"/>
<rect x="987" y="237" width="3" height="15"/>
<rect x="992" y="239" width="1" height="26"/>
<rect x="991" y="250" width="3" height="14"/>
<rect x="996" y="240" width="1" height="25"/>
<rect x="995" y="247" width="3" height="16"/>
<rect x="996" y="248" width="1" height="14" fill="#fff"/>
</g>
<!-- TradingView logo -->
<g fill="#131313">
<path d="M14 621H26V636H20V627.5H14Z"/>
<circle cx="31.2" cy="624.2" r="3"/>
<path d="M36 621H44L38.6 636H31Z"/>
</g>
<!-- lightning icon -->
<g>
<circle cx="996.7" cy="612.3" r="9.85" fill="#fff" stroke="#6d2c8e" stroke-width="1.3"/>
<path d="M998.9 607.3L992.7 612.9H996.2L993.3 617.7L1000.2 611.9H996.8Z" fill="#7a2fa3"/>
<circle cx="1003.5" cy="605.5" r="4" fill="#fff"/>
<circle cx="1003.5" cy="605.5" r="2.5" fill="#d9475f"/>
</g>
<!-- stacked flags -->
<g stroke="#d9525a" stroke-width="1.25">
<circle cx="1013.4" cy="636.7" r="9.9" fill="#fff"/>
<path d="M1016.9 630.2a8 8 0 0 1 3.4 2.6v7.8a8 8 0 0 1-3.4 2.6z" fill="#d9605f" stroke="none"/>
<circle cx="1004.7" cy="636.7" r="9.9" fill="#fbd9d9"/>
<circle cx="1004.7" cy="636.7" r="7.9" fill="#f7bcbc" stroke-width=".9"/>
<circle cx="1000" cy="636.7" r="9.9" fill="#fbd9d9"/>
<circle cx="1000" cy="636.7" r="7.9" fill="#f7bcbc" stroke-width=".9"/>
<circle cx="995.4" cy="636.7" r="9.9" fill="#fff"/>
</g>
<g>
<clipPath id="usc"><circle cx="995.4" cy="636.7" r="8.1"/></clipPath>
<g clip-path="url(#usc)">
<rect x="986" y="627" width="20" height="20" fill="#fff"/>
<rect x="986" y="629.6" width="20" height="2.3" fill="#d9605f"/>
<rect x="986" y="635.3" width="20" height="2.6" fill="#d9605f"/>
<rect x="986" y="641.3" width="20" height="3.3" fill="#d9605f"/>
<rect x="986" y="628" width="12" height="10.4" fill="#3f86dc"/>
<g fill="#cfe4fb"><circle cx="990.3" cy="633.4" r=".55"/><circle cx="992.8" cy="633.4" r=".55"/><circle cx="995.3" cy="633.4" r=".55"/><circle cx="990.3" cy="636.2" r=".55"/><circle cx="992.8" cy="636.2" r=".55"/><circle cx="995.3" cy="636.2" r=".55"/><circle cx="992.8" cy="630.7" r=".55"/><circle cx="995.3" cy="630.7" r=".55"/></g>
</g>
</g>
<!-- settings hexagon -->
<g fill="none" stroke="#1c1f2a" stroke-width="1.2">
<path d="M1241.9 664.4L1245.2 658.6H1251.9L1255.2 664.4L1251.9 670.2H1245.2Z"/>
<circle cx="1248.55" cy="664.4" r="2.1"/>
</g>

<!-- symbol flags -->
<g>
<clipPath id="ca"><circle cx="23" cy="13.7" r="5.8"/></clipPath>
<g clip-path="url(#ca)">
<rect x="16" y="7" width="14" height="14" fill="#fff"/>
<rect x="16" y="7" width="3.9" height="14" fill="#dd5a5f"/>
<rect x="26.2" y="7" width="4" height="14" fill="#dd5a5f"/>
<path d="M23 10.6l.8 1.5 1.2-.3-.5 1.9.8.5-1.6 1.3h-1.4l-1.6-1.3.8-.5-.5-1.9 1.2.3z" fill="#dd5a5f"/>
</g>
<circle cx="23" cy="13.7" r="5.6" fill="none" stroke="#ececec" stroke-width=".6"/>
<circle cx="16.9" cy="19.9" r="7.1" fill="#fff"/>
<clipPath id="us"><circle cx="16.9" cy="19.9" r="6"/></clipPath>
<g clip-path="url(#us)">
<rect x="10" y="13" width="14" height="14" fill="#fff"/>
<rect x="10" y="13.6" width="14" height="1.5" fill="#d9585c"/>
<rect x="10" y="16.4" width="14" height="1.5" fill="#d9585c"/>
<rect x="10" y="19.2" width="14" height="1.4" fill="#d9585c"/>
<rect x="10" y="23.2" width="14" height="3" fill="#d9585c"/>
<rect x="10" y="13" width="7.4" height="7.8" fill="#4c8ee6"/>
<g fill="#cfe2fa"><circle cx="12.6" cy="16" r=".45"/><circle cx="14.4" cy="16" r=".45"/><circle cx="16.2" cy="16" r=".45"/><circle cx="12.6" cy="17.8" r=".45"/><circle cx="14.4" cy="17.8" r=".45"/><circle cx="16.2" cy="17.8" r=".45"/><circle cx="12.6" cy="19.6" r=".45"/><circle cx="14.4" cy="19.6" r=".45"/><circle cx="16.2" cy="19.6" r=".45"/><circle cx="14.4" cy="14.3" r=".45"/><circle cx="16.2" cy="14.3" r=".45"/></g>
</g>
</g>
<!-- eye icon -->
<g fill="none" stroke="#1c1f2a" stroke-width="1.15">
<path d="M80.6 82.9C82.7 79 85.2 77.4 88.1 77.4S93.5 79 95.6 82.9C93.5 86.8 91 88.4 88.1 88.4S82.7 86.8 80.6 82.9Z"/>
<circle cx="88.1" cy="82.9" r="2.3"/>
<path d="M82 89L94 76.9" stroke="#fff" stroke-width="3"/>
<path d="M82.3 88.7L93.8 77.1" stroke-width="1.25"/>
</g>
<!-- caret & chevron -->
<path d="M21.8 157.5L25.6 153.7L29.4 157.5" fill="none" stroke="#1c1f2a" stroke-width="1.7"/>
<path d="M1266.9 17.5L1269.3 19.9L1271.7 17.5" fill="none" stroke="#1c1f2a" stroke-width="1.2"/>
</svg>


</div>

<div class="bar">
<div class="abs" style="left:276px;top:9px;width:1px;height:22px;background:#3c3c3c"></div>

</div>
<div class="ov">
<svg class="abs" style="left:0;top:0" width="1284" height="715" viewBox="0 0 1284 715" fill="none" stroke="#d4d6dc" stroke-width="1.25">
<path d="M293.7 698.8V692.6a2 2 0 0 1 2-2H308.8a2 2 0 0 1 2 2V703.5a2 2 0 0 1-2 2H302.6"/>
<path d="M293.7 695.6H310.8"/>
<path d="M298.3 688V693M305.9 688V693"/>
<path d="M292 702.4H299.3M296.4 699.6L299.4 702.4L296.4 705.2"/>
</svg>
<div class="abs" style="left:32.54px;top:10.30px;font-size:15px;color:#a2a4ab;transform:scaleX(1.0267);transform-origin:0 0;-webkit-text-stroke:0.2px #a2a4ab;">U.S.</div>
<div class="abs" style="left:67.27px;top:10.30px;font-size:15px;color:#a2a4ab;transform:scaleX(1.1232);transform-origin:0 0;-webkit-text-stroke:0.2px #a2a4ab;">Dollar</div>
<div class="abs" style="left:116.60px;top:10.30px;font-size:15px;color:#a2a4ab;transform:scaleX(1.1940);transform-origin:0 0;-webkit-text-stroke:0.2px #a2a4ab;">/</div>
<div class="abs" style="left:128.25px;top:10.30px;font-size:15px;color:#a2a4ab;transform:scaleX(1.0048);transform-origin:0 0;-webkit-text-stroke:0.2px #a2a4ab;">Canadian</div>
<div class="abs" style="left:198.06px;top:10.30px;font-size:15px;color:#a2a4ab;transform:scaleX(1.0411);transform-origin:0 0;-webkit-text-stroke:0.2px #a2a4ab;">Dollar</div>
<div class="abs" style="left:253.47px;top:10.30px;font-size:15px;color:#a2a4ab;transform:scaleX(0.9126);transform-origin:0 0;-webkit-text-stroke:0.2px #a2a4ab;">1D</div>
<div class="abs" style="left:283.37px;top:10.30px;font-size:15px;color:#a2a4ab;transform:scaleX(0.9178);transform-origin:0 0;-webkit-text-stroke:0.2px #a2a4ab;">OANDA</div>
<div class="abs" style="left:244.66px;top:11.15px;font-size:14px;font-weight:bold;color:#131722;letter-spacing:0.000px;">·</div>
<div class="abs" style="left:274.86px;top:11.15px;font-size:14px;font-weight:bold;color:#131722;letter-spacing:0.000px;">·</div>
<div class="abs" style="left:340.34px;top:11.54px;font-size:12px;color:#b6b9c1;letter-spacing:0.000px;">O</div>
<div class="abs" style="left:351.93px;top:11.54px;font-size:12px;color:#131722;letter-spacing:0.210px;">1.42852</div>
<div class="abs" style="left:401.86px;top:11.54px;font-size:12px;color:#b6b9c1;letter-spacing:0.000px;">H</div>
<div class="abs" style="left:412.52px;top:11.54px;font-size:12px;color:#131722;letter-spacing:0.350px;">1.43426</div>
<div class="abs" style="left:463.96px;top:11.54px;font-size:12px;color:#b6b9c1;letter-spacing:0.000px;">L</div>
<div class="abs" style="left:471.73px;top:11.54px;font-size:12px;color:#131722;letter-spacing:0.283px;">1.42798</div>
<div class="abs" style="left:522.44px;top:11.54px;font-size:12px;color:#b6b9c1;letter-spacing:0.000px;">C</div>
<div class="abs" style="left:532.52px;top:11.54px;font-size:12px;color:#131722;letter-spacing:0.200px;">1.43248</div>
<div class="abs" style="left:584.14px;top:11.54px;font-size:12px;color:#131722;letter-spacing:0.150px;">+0.00402</div>
<div class="abs" style="left:640.31px;top:11.54px;font-size:12px;color:#131722;letter-spacing:-0.046px;">(+0.28%)</div>
<div class="abs" style="left:10px;top:33px;width:67px;height:34px;background:#f23645;border-radius:5px"></div>
<div class="abs" style="left:108px;top:33px;width:67px;height:34px;background:#2962ff;border-radius:5px"></div>
<div class="abs" style="left:21.35px;top:37.54px;font-size:12px;font-weight:bold;color:#fff;letter-spacing:0.560px;">1.4323</div>
<div class="abs" style="left:60.55px;top:36.86px;font-size:9.5px;font-weight:bold;color:#fff;letter-spacing:0.000px;">8</div>
<div class="abs" style="left:31.68px;top:53.11px;font-size:10.5px;font-weight:bold;color:#fff;transform:scaleX(0.8703);transform-origin:0 0;">SELL</div>
<div class="abs" style="left:85.50px;top:45.73px;font-size:10px;color:#131722;transform:scaleX(0.9923);transform-origin:0 0;-webkit-text-stroke:0.2px #131722;">2.0</div>
<div class="abs" style="left:119.25px;top:37.54px;font-size:12px;font-weight:bold;color:#fff;letter-spacing:0.575px;">1.4325</div>
<div class="abs" style="left:158.65px;top:36.86px;font-size:9.5px;font-weight:bold;color:#fff;letter-spacing:0.000px;">8</div>
<div class="abs" style="left:130.28px;top:53.11px;font-size:10.5px;font-weight:bold;color:#fff;transform:scaleX(0.8982);transform-origin:0 0;">BUY</div>
<div class="abs" style="left:11.30px;top:77.52px;font-size:12.5px;color:#a2a4ab;letter-spacing:0.287px;">Vol</div>
<div class="abs" style="left:33.19px;top:77.52px;font-size:12.5px;font-weight:bold;color:#a2a4ab;letter-spacing:0.000px;">·</div>
<div class="abs" style="left:41.75px;top:77.52px;font-size:12.5px;color:#a2a4ab;letter-spacing:-0.125px;">Ticks</div>
<div class="abs" style="left:10.93px;top:102.49px;font-size:11px;color:#a2a4ab;letter-spacing:0.081px;">EMA</div>
<div class="abs" style="left:43.12px;top:101.64px;font-size:12px;color:#dc4a5c;letter-spacing:0.410px;">1.42887</div>
<div class="abs" style="left:10.93px;top:126.39px;font-size:11px;color:#a2a4ab;letter-spacing:0.081px;">EMA</div>
<div class="abs" style="left:43.12px;top:125.54px;font-size:12px;color:#7d808a;letter-spacing:0.400px;">1.39553</div>
<div class="abs" style="left:11px;top:145px;width:29px;height:21px;border:1px solid #dcdee4;border-radius:3px"></div>
<div class="abs" style="left:1220px;top:5px;width:57px;height:26px;border:1px solid #ebedf1;border-radius:3px"></div>
<div class="abs" style="left:1222.90px;top:11.97px;font-size:11.5px;color:#131722;transform:scaleX(0.8860);transform-origin:0 0;">CAD</div>
<div class="abs" style="left:1223.92px;top:58.00px;font-size:12px;color:#b5b8c0;letter-spacing:-0.194px;">1.48000</div>
<div class="abs" style="left:1223.92px;top:97.00px;font-size:12px;color:#b5b8c0;letter-spacing:-0.194px;">1.47000</div>
<div class="abs" style="left:1223.92px;top:135.00px;font-size:12px;color:#b5b8c0;letter-spacing:-0.194px;">1.46000</div>
<div class="abs" style="left:1223.92px;top:213.00px;font-size:12px;color:#b5b8c0;letter-spacing:-0.194px;">1.44000</div>
<div class="abs" style="left:1223.92px;top:329.00px;font-size:12px;color:#b5b8c0;letter-spacing:-0.194px;">1.41000</div>
<div class="abs" style="left:1223.92px;top:367.00px;font-size:12px;color:#b5b8c0;letter-spacing:-0.194px;">1.40000</div>
<div class="abs" style="left:1223.92px;top:406.00px;font-size:12px;color:#b5b8c0;letter-spacing:-0.194px;">1.39000</div>
<div class="abs" style="left:1223.92px;top:445.00px;font-size:12px;color:#b5b8c0;letter-spacing:-0.194px;">1.38000</div>
<div class="abs" style="left:1223.92px;top:483.00px;font-size:12px;color:#b5b8c0;letter-spacing:-0.194px;">1.37000</div>
<div class="abs" style="left:1223.92px;top:522.00px;font-size:12px;color:#b5b8c0;letter-spacing:-0.194px;">1.36000</div>
<div class="abs" style="left:1223.92px;top:561.00px;font-size:12px;color:#b5b8c0;letter-spacing:-0.194px;">1.35000</div>
<div class="abs" style="left:1223.92px;top:599.00px;font-size:12px;color:#b5b8c0;letter-spacing:-0.194px;">1.34000</div>
<div class="abs" style="left:1223.92px;top:638.00px;font-size:12px;color:#b5b8c0;letter-spacing:-0.194px;">1.33000</div>
<div class="abs" style="left:1216px;top:171px;width:56px;height:17px;background:#2962ff;border-radius:0 2px 2px 0"></div>
<div class="abs" style="left:1224.05px;top:173.54px;font-size:12px;font-weight:bold;color:#fff;letter-spacing:-0.171px;">1.45000</div>
<div class="abs" style="left:1216px;top:239px;width:60px;height:31px;background:#474a55;border-radius:0 3px 3px 0"></div>
<div class="abs" style="left:1223.65px;top:241.74px;font-size:12px;font-weight:bold;color:#fff;letter-spacing:-0.108px;">1.43248</div>
<div class="abs" style="left:1223.53px;top:256.39px;font-size:11px;font-weight:bold;color:#d5d7dd;letter-spacing:0.450px;">06:45:12</div>
<div class="abs" style="left:1216px;top:270px;width:56px;height:17px;background:#9c27b0;border-radius:0 2px 0 0"></div>
<div class="abs" style="left:1223.65px;top:272.94px;font-size:12px;font-weight:bold;color:#fff;letter-spacing:-0.088px;">1.43000</div>
<div class="abs" style="left:1216px;top:287px;width:56px;height:17px;background:#2962ff;border-radius:0 0 2px 0"></div>
<div class="abs" style="left:1223.65px;top:289.64px;font-size:12px;font-weight:bold;color:#fff;letter-spacing:-0.088px;">1.42000</div>
<div class="abs" style="left:56.40px;top:657.64px;font-size:12px;color:#b5b8c0;letter-spacing:-0.250px;">Apr</div>
<div class="abs" style="left:145.26px;top:657.64px;font-size:12px;color:#b5b8c0;letter-spacing:-0.425px;">May</div>
<div class="abs" style="left:242.21px;top:657.64px;font-size:12px;color:#b5b8c0;letter-spacing:-0.019px;">Jun</div>
<div class="abs" style="left:326.91px;top:657.64px;font-size:12px;color:#b5b8c0;letter-spacing:0.812px;">Jul</div>
<div class="abs" style="left:419.90px;top:657.64px;font-size:12px;color:#b5b8c0;letter-spacing:-0.112px;">Aug</div>
<div class="abs" style="left:510.60px;top:657.64px;font-size:12px;color:#b5b8c0;letter-spacing:-0.488px;">Sep</div>
<div class="abs" style="left:598.04px;top:657.64px;font-size:12px;color:#b5b8c0;letter-spacing:0.350px;">Oct</div>
<div class="abs" style="left:692.16px;top:657.64px;font-size:12px;color:#b5b8c0;letter-spacing:-0.738px;">Nov</div>
<div class="abs" style="left:778.86px;top:657.64px;font-size:12px;color:#b5b8c0;letter-spacing:-0.281px;">Dec</div>
<div class="abs" style="left:956.36px;top:657.64px;font-size:12px;color:#b5b8c0;letter-spacing:0.075px;">Feb</div>
<div class="abs" style="left:1039.06px;top:657.64px;font-size:12px;color:#b5b8c0;letter-spacing:0.219px;">Mar</div>
<div class="abs" style="left:1127.80px;top:657.64px;font-size:12px;color:#b5b8c0;letter-spacing:-0.300px;">Apr</div>
<div class="abs" style="left:862.23px;top:657.64px;font-size:12px;font-weight:bold;color:#b0b3bb;letter-spacing:0.467px;">2025</div>
<div class="abs" style="left:15.74px;top:691.35px;font-size:14px;color:#d4d6dc;letter-spacing:-1.250px;-webkit-text-stroke:0.45px #d4d6dc;">1D</div>
<div class="abs" style="left:44.04px;top:691.35px;font-size:14px;color:#d4d6dc;letter-spacing:-1.550px;-webkit-text-stroke:0.45px #d4d6dc;">5D</div>
<div class="abs" style="left:71.84px;top:691.35px;font-size:14px;color:#d4d6dc;letter-spacing:-0.513px;-webkit-text-stroke:0.45px #d4d6dc;">1M</div>
<div class="abs" style="left:101.10px;top:691.35px;font-size:14px;color:#d4d6dc;letter-spacing:-0.875px;-webkit-text-stroke:0.45px #d4d6dc;">3M</div>
<div class="abs" style="left:129.51px;top:691.35px;font-size:14px;color:#d4d6dc;letter-spacing:-0.188px;-webkit-text-stroke:0.45px #d4d6dc;">6M</div>
<div class="abs" style="left:159.75px;top:691.35px;font-size:14px;color:#d4d6dc;letter-spacing:-1.412px;-webkit-text-stroke:0.45px #d4d6dc;">YTD</div>
<div class="abs" style="left:195.94px;top:691.35px;font-size:14px;color:#d4d6dc;letter-spacing:-2.012px;-webkit-text-stroke:0.45px #d4d6dc;">1Y</div>
<div class="abs" style="left:223.64px;top:691.35px;font-size:14px;color:#d4d6dc;letter-spacing:-1.712px;-webkit-text-stroke:0.45px #d4d6dc;">5Y</div>
<div class="abs" style="left:251.00px;top:691.35px;font-size:14px;color:#d4d6dc;letter-spacing:1.088px;-webkit-text-stroke:0.45px #d4d6dc;">All</div>
<div class="abs" style="left:1186.64px;top:691.25px;font-size:14px;color:#d4d6dc;letter-spacing:0.027px;-webkit-text-stroke:0.5px #d4d6dc;">15:14:48</div>
<div class="abs" style="left:1244.94px;top:691.25px;font-size:14px;color:#d4d6dc;letter-spacing:-1.475px;-webkit-text-stroke:0.5px #d4d6dc;">UTC</div>
</div>
</body>
</html>
